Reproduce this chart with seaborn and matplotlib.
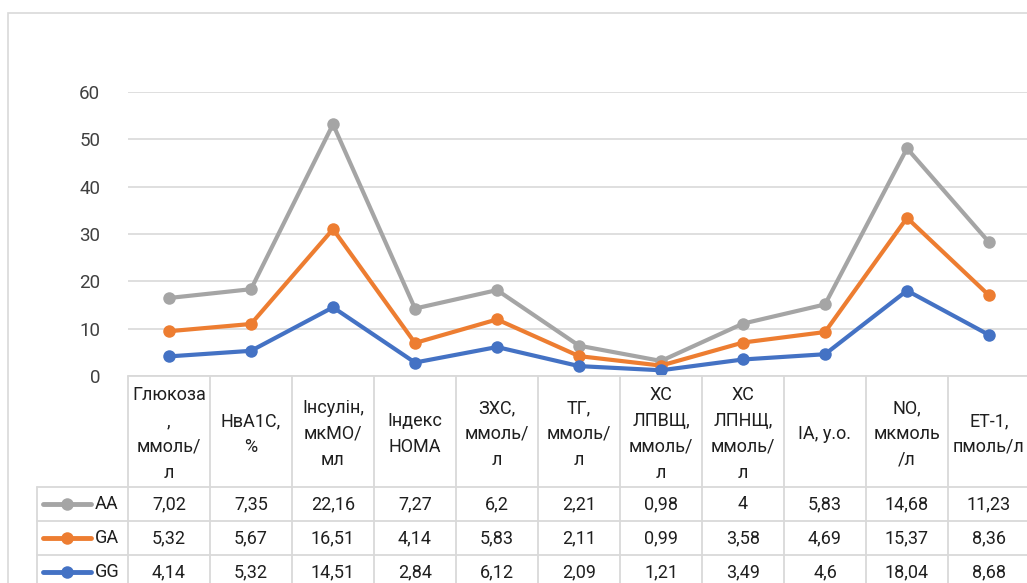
import numpy as np
import pandas as pd
import matplotlib
matplotlib.use("Agg")
import matplotlib.pyplot as plt
from matplotlib.patches import Rectangle
from matplotlib.lines import Line2D
import seaborn as sns

categories = ["Глюкоза\n,\nммоль/\nл", "НвА1С,\n%", "Інсулін,\nмкМО/\nмл", "Індекс\nНОМА",
              "ЗХС,\nммоль/\nл", "ТГ,\nммоль/\nл", "ХС\nЛПВЩ,\nммоль/\nл", "ХС\nЛПНЩ,\nммоль/\nл",
              "ІА, у.о.", "NO,\nмкмоль\n/л", "ЕТ-1,\nпмоль/л"]
series_names = ["AA", "GA", "GG"]
aa = [7.02, 7.35, 22.16, 7.27, 6.2, 2.21, 0.98, 4, 5.83, 14.68, 11.23]
ga = [5.32, 5.67, 16.51, 4.14, 5.83, 2.11, 0.99, 3.58, 4.69, 15.37, 8.36]
gg = [4.14, 5.32, 14.51, 2.84, 6.12, 2.09, 1.21, 3.49, 4.6, 18.04, 8.68]
aa_labels = ["7,02", "7,35", "22,16", "7,27", "6,2", "2,21", "0,98", "4", "5,83", "14,68", "11,23"]
ga_labels = ["5,32", "5,67", "16,51", "4,14", "5,83", "2,11", "0,99", "3,58", "4,69", "15,37", "8,36"]
gg_labels = ["4,14", "5,32", "14,51", "2,84", "6,12", "2,09", "1,21", "3,49", "4,6", "18,04", "8,68"]
yticks = [0, 10, 20, 30, 40, 50, 60]
colors = {"AA": "#A5A5A5", "GA": "#ED7D31", "GG": "#4472C4"}

# stacked line: GG bottom, GA on GG, AA on top
gg_c = np.array(gg)
ga_c = gg_c + np.array(ga)
aa_c = ga_c + np.array(aa)
n = len(categories)
df = pd.DataFrame({
    "x": list(range(n)) * 3,
    "y": list(aa_c) + list(ga_c) + list(gg_c),
    "series": ["AA"] * n + ["GA"] * n + ["GG"] * n,
})

sns.set_theme(style="white")
plt.rcParams["font.family"] = ["Roboto", "DejaVu Sans"]

W, H = 1027, 583
fig = plt.figure(figsize=(W / 100, H / 100), dpi=100)
fig.patch.set_facecolor("white")

ax_left, ax_right, ax_top, ax_bot = 128, 1030, 92, 376
ax = fig.add_axes([ax_left / W, 1 - ax_bot / H, (ax_right - ax_left) / W, (ax_bot - ax_top) / H])

sns.lineplot(data=df, x="x", y="y", hue="series", palette=colors, hue_order=series_names,
             marker="o", markersize=9, markeredgewidth=0, linewidth=3, legend=False, ax=ax,
             zorder=3)

ax.set_xlim(-0.5, n - 0.5)
ax.set_ylim(0, 60)
ax.set_yticks(yticks)
ax.set_yticklabels([str(t) for t in yticks], fontsize=13.5, color="#404040")
ax.tick_params(axis="y", length=0, pad=20)
ax.set_xticks([])
ax.set_xlabel("")
ax.set_ylabel("")
for s in ax.spines.values():
    s.set_visible(False)
ax.grid(axis="y", color="#D9D9D9", linewidth=1.2)
ax.set_axisbelow(True)

grid_c = "#D9D9D9"
# outer chart frame
fig.patches.append(Rectangle((8 / W, -0.2), 1.2, 1 - 13 / H + 0.2, transform=fig.transFigure,
                             fill=False, edgecolor=grid_c, linewidth=1.2, zorder=0))

def fx(px):
    return px / W

def fy(py):
    return 1 - py / H

col_w = (ax_right - ax_left) / n
# table lines
hrows = [376, 487, 521, 555]
for i, r in enumerate(hrows):
    x0 = ax_left if i == 0 else 37
    fig.add_artist(Line2D([fx(x0), fx(1040)], [fy(r), fy(r)], color=grid_c, linewidth=1.3,
                          transform=fig.transFigure))
for k in range(n + 1):
    xp = ax_left + k * col_w
    fig.add_artist(Line2D([fx(xp), fx(xp)], [fy(376), fy(600)], color=grid_c, linewidth=1.3,
                          transform=fig.transFigure))
fig.add_artist(Line2D([fx(37), fx(37)], [fy(487), fy(600)], color=grid_c, linewidth=1.3,
                      transform=fig.transFigure))

txt_c = "#1f1f1f"
fs = 13
for k, cat in enumerate(categories):
    xc = ax_left + (k + 0.5) * col_w
    fig.text(fx(xc), fy(434), cat, ha="center", va="center", fontsize=fs, color=txt_c,
             linespacing=1.55)

row_centers = [504, 538, 572]
for name, labels, rc in zip(series_names, [aa_labels, ga_labels, gg_labels], row_centers):
    fig.add_artist(Line2D([fx(43), fx(91)], [fy(rc), fy(rc)], color=colors[name], linewidth=3.5,
                          solid_capstyle="round", transform=fig.transFigure))
    fig.add_artist(Line2D([fx(67)], [fy(rc)], color=colors[name], marker="o", markersize=9,
                          markeredgewidth=0, linestyle="none", transform=fig.transFigure))
    fig.text(fx(95), fy(rc), name, ha="left", va="center", fontsize=fs, color=txt_c)
    for k, lab in enumerate(labels):
        xc = ax_left + (k + 0.5) * col_w
        fig.text(fx(xc), fy(rc), lab, ha="center", va="center", fontsize=fs, color=txt_c)

fig.savefig("out.png", dpi=100, facecolor="white")
